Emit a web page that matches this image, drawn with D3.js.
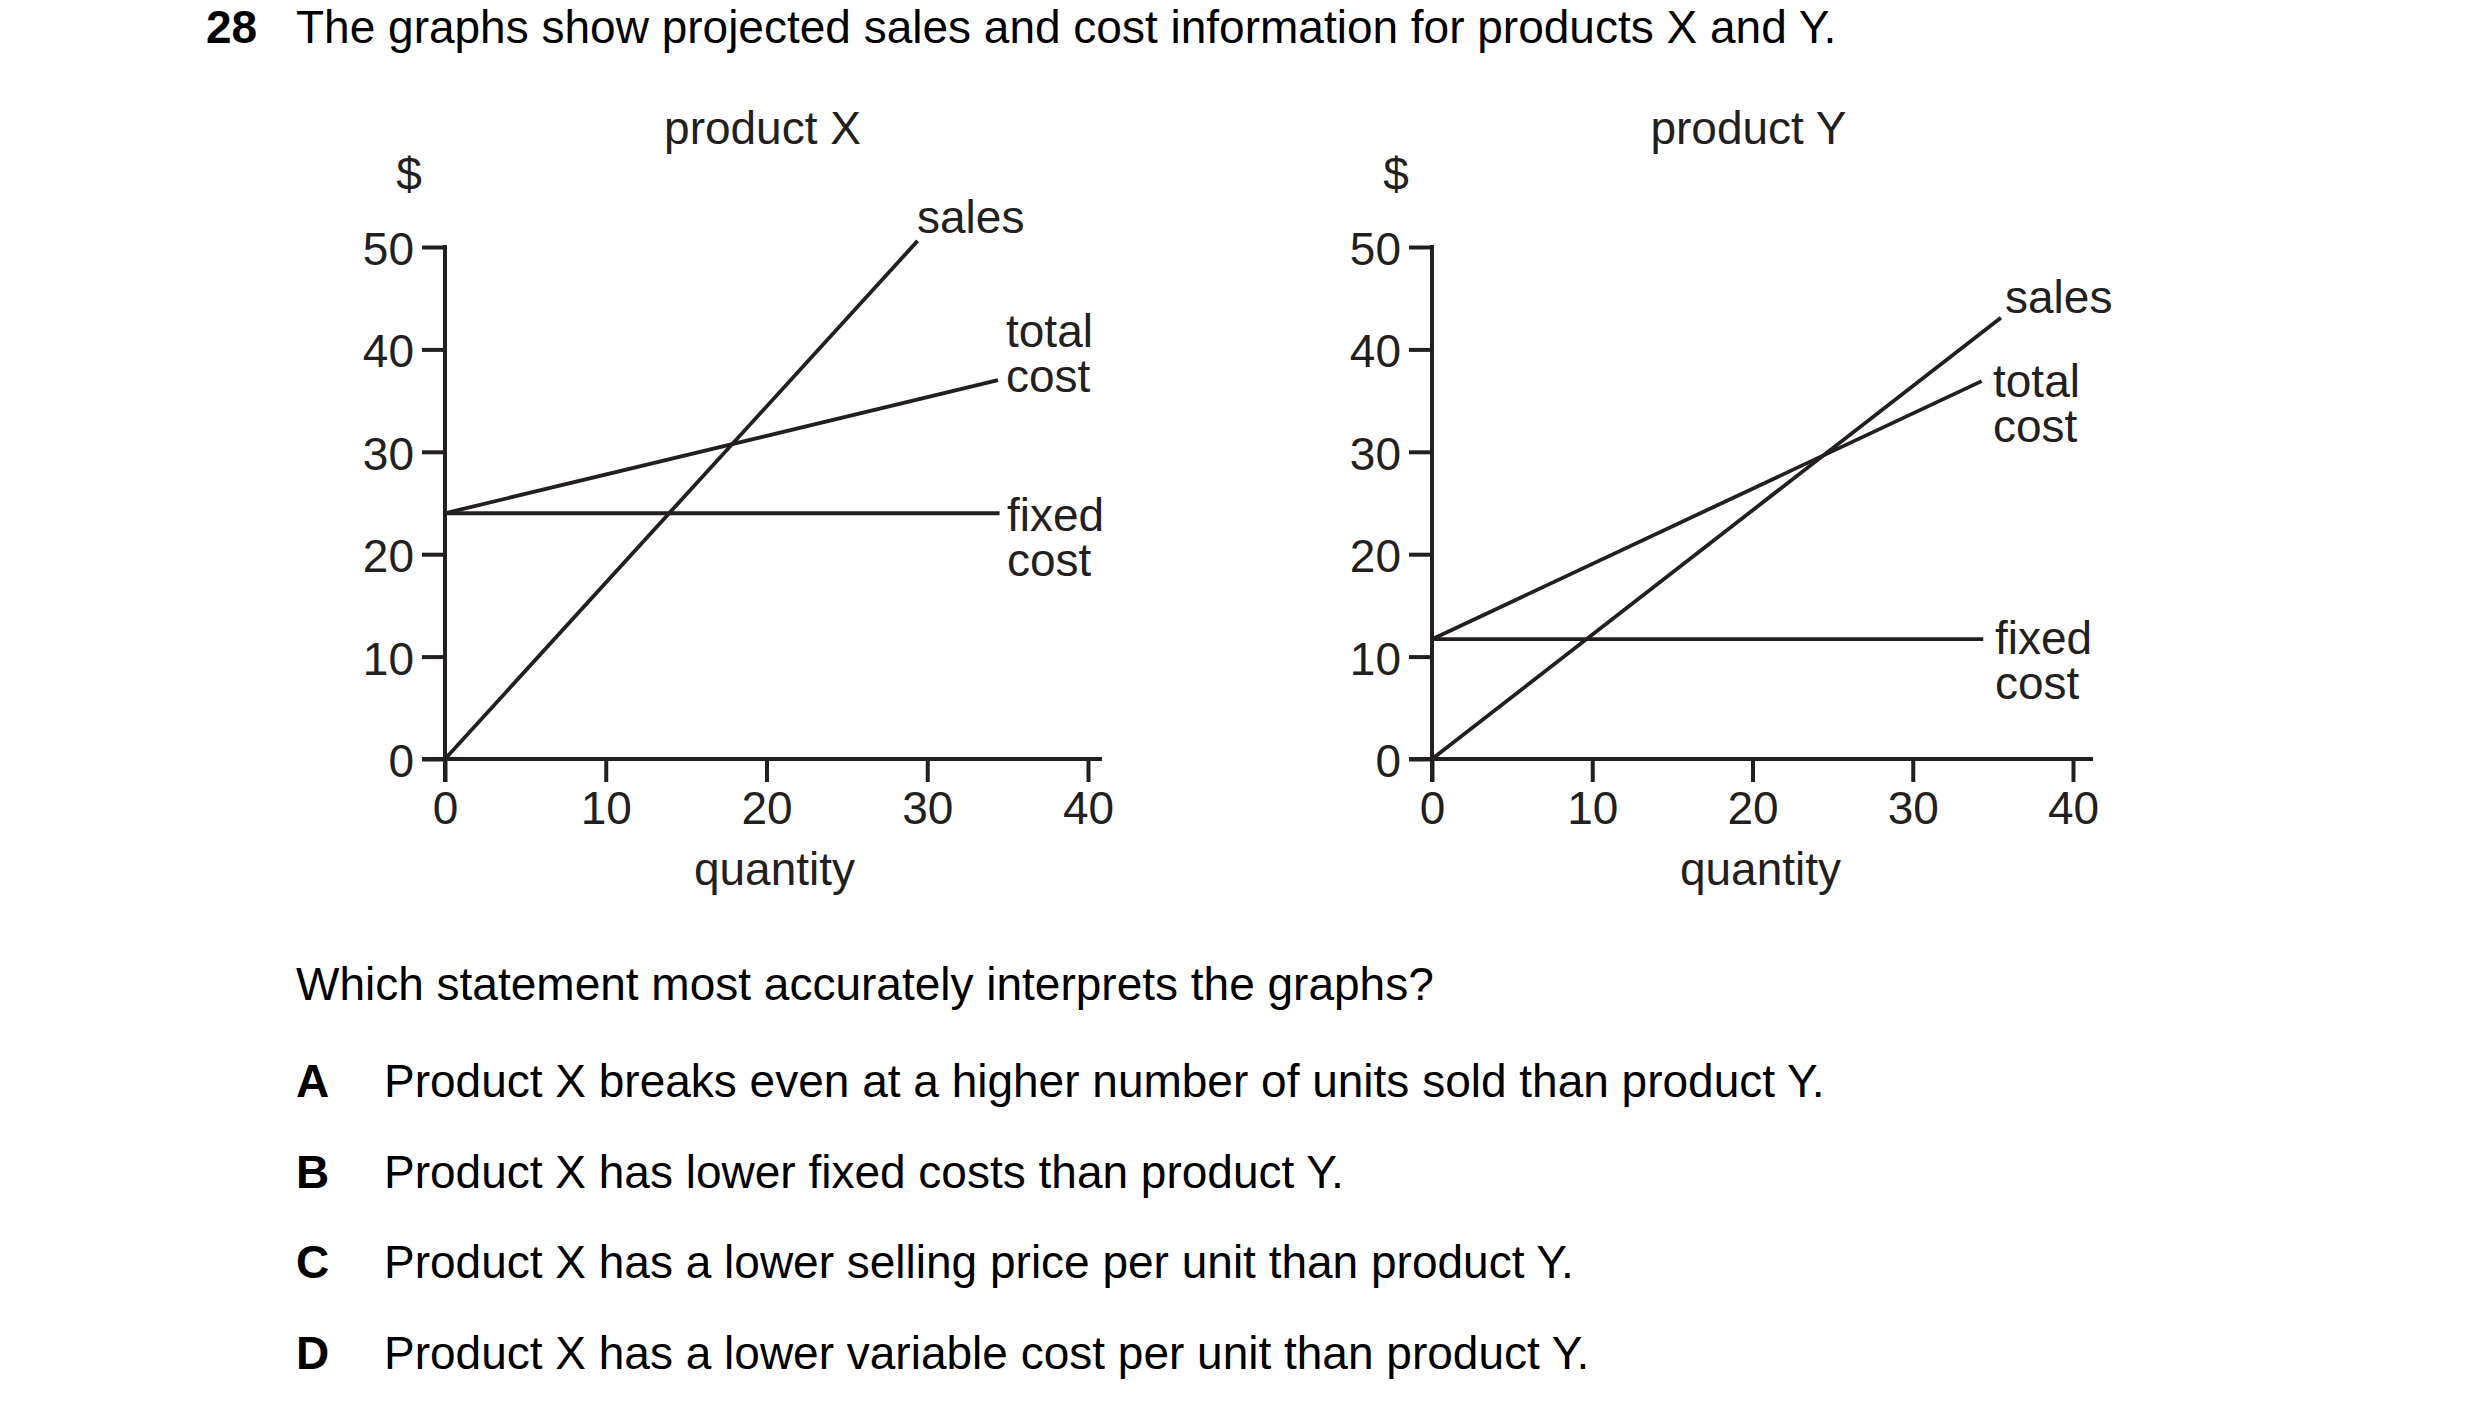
<!DOCTYPE html>
<html>
<head>
<meta charset="utf-8">
<script src="https://cdn.jsdelivr.net/npm/d3@7"></script>
<style>
  html, body { margin: 0; padding: 0; background: #ffffff; }
  svg { display: block; }
</style>
</head>
<body>
<script>
// ---------------- DATA ----------------
const questionNumber = "28";
const questionTitle = "The graphs show projected sales and cost information for products X and Y.";
const questionPrompt = "Which statement most accurately interprets the graphs?";
const optionLetters = ["A", "B", "C", "D"];
const optionTexts = [
  "Product X breaks even at a higher number of units sold than product Y.",
  "Product X has lower fixed costs than product Y.",
  "Product X has a lower selling price per unit than product Y.",
  "Product X has a lower variable cost per unit than product Y."
];

const xTicks = [0, 10, 20, 30, 40];
const yTicks = [0, 10, 20, 30, 40, 50];
const xDomain = [0, 40];
const yDomain = [0, 50];
const xAxisTitle = "quantity";
const yAxisTitle = "$";

// [quantity, $] end points of each straight line
const productXSales     = [[0, 0], [29.4, 50.6]];
const productXTotalCost = [[0, 24], [34.4, 37]];
const productXFixedCost = [[0, 24], [34.5, 24]];

const productYSales     = [[0, 0], [35.5, 43.1]];
const productYTotalCost = [[0, 11.7], [34.3, 36.9]];
const productYFixedCost = [[0, 11.7], [34.4, 11.7]];

const seriesLabels = { sales: ["sales"], total: ["total", "cost"], fixed: ["fixed", "cost"] };

// ---------------- LAYOUT / STYLE ----------------
const W = 2480, H = 1416;
const FONT = "'Liberation Sans', Arial, Helvetica, sans-serif";
const FS = 46;
const INK = "#231f20";
const TICK = 23;

const charts = [
  {
    title: "product X",
    left: 445, right: 1088, top: 247, bottom: 759, axisExtend: 14,
    series: { sales: productXSales, total: productXTotalCost, fixed: productXFixedCost },
    // label anchor positions (pixels) for each series label block: [x, first baseline]
    labelPos: { sales: [917, 233], total: [1006, 347], fixed: [1007, 531] }
  },
  {
    title: "product Y",
    left: 1432, right: 2073, top: 247, bottom: 759, axisExtend: 20,
    series: { sales: productYSales, total: productYTotalCost, fixed: productYFixedCost },
    labelPos: { sales: [2005, 313], total: [1993, 397], fixed: [1995, 654] }
  }
];

const svg = d3.select("body").append("svg")
  .attr("width", W).attr("height", H)
  .attr("viewBox", `0 0 ${W} ${H}`)
  .style("font-family", FONT);

// ---------------- HEADER ----------------
svg.append("text").attr("x", 206).attr("y", 43)
  .attr("font-size", FS).attr("font-weight", "bold").attr("fill", "#000")
  .text(questionNumber);
svg.append("text").attr("x", 296).attr("y", 43)
  .attr("font-size", FS).attr("fill", "#000")
  .text(questionTitle);

// ---------------- CHARTS ----------------
charts.forEach(c => {
  const x = d3.scaleLinear().domain(xDomain).range([c.left, c.right]);
  const y = d3.scaleLinear().domain(yDomain).range([c.bottom, c.top]);
  const g = svg.append("g");

  // Chart title
  g.append("text")
    .attr("x", (c.left + c.right) / 2 - 4).attr("y", 144)
    .attr("text-anchor", "middle").attr("font-size", FS).attr("fill", INK)
    .text(c.title);

  // $ label
  g.append("text")
    .attr("x", x(0) - 36).attr("y", 190)
    .attr("text-anchor", "middle").attr("font-size", FS).attr("fill", INK)
    .text(yAxisTitle);

  // Y axis
  const yAxis = d3.axisLeft(y).tickValues(yTicks).tickSize(TICK).tickPadding(8).tickFormat(d3.format("d"));
  const gy = g.append("g").attr("transform", `translate(${x(0)},0)`).call(yAxis);
  gy.select(".domain").remove();
  gy.selectAll(".tick line").attr("stroke", INK).attr("stroke-width", 4);
  gy.selectAll(".tick text").attr("font-size", FS).attr("font-family", FONT).attr("fill", INK).attr("dy", "0.38em");

  // X axis
  const xAxis = d3.axisBottom(x).tickValues(xTicks).tickSize(TICK).tickPadding(9).tickFormat(d3.format("d"));
  const gx = g.append("g").attr("transform", `translate(0,${y(0)})`).call(xAxis);
  gx.select(".domain").remove();
  gx.selectAll(".tick line").attr("stroke", INK).attr("stroke-width", 4);
  gx.selectAll(".tick text").attr("font-size", FS).attr("font-family", FONT).attr("fill", INK);

  // Axis lines
  g.append("line")
    .attr("x1", x(0) - TICK).attr("x2", x(xDomain[1]) + c.axisExtend)
    .attr("y1", y(0)).attr("y2", y(0))
    .attr("stroke", INK).attr("stroke-width", 4);
  g.append("line")
    .attr("x1", x(0)).attr("x2", x(0))
    .attr("y1", y(0) + TICK).attr("y2", y(yDomain[1]) - 2)
    .attr("stroke", INK).attr("stroke-width", 4);

  // quantity label
  g.append("text")
    .attr("x", (c.left + c.right) / 2 + 8).attr("y", 885)
    .attr("text-anchor", "middle").attr("font-size", FS).attr("fill", INK)
    .text(xAxisTitle);

  // Lines
  const line = d3.line().x(d => x(d[0])).y(d => y(d[1]));
  ["fixed", "total", "sales"].forEach(k => {
    g.append("path").datum(c.series[k])
      .attr("d", line)
      .attr("fill", "none").attr("stroke", INK).attr("stroke-width", 3.8)
      .attr("stroke-linecap", "butt");
  });

  // Series labels
  Object.keys(seriesLabels).forEach(k => {
    const [lx, ly] = c.labelPos[k];
    const t = g.append("text").attr("x", lx).attr("y", ly)
      .attr("font-size", FS).attr("fill", INK);
    seriesLabels[k].forEach((s, i) => {
      t.append("tspan").attr("x", lx).attr("dy", i === 0 ? 0 : 45).text(s);
    });
  });
});

// ---------------- QUESTION ----------------
svg.append("text").attr("x", 296).attr("y", 1000)
  .attr("font-size", FS).attr("fill", "#000")
  .text(questionPrompt);

optionLetters.forEach((L, i) => {
  const by = 1097 + i * 90.5;
  svg.append("text").attr("x", 296).attr("y", by)
    .attr("font-size", FS).attr("font-weight", "bold").attr("fill", "#000")
    .text(L);
  svg.append("text").attr("x", 384).attr("y", by)
    .attr("font-size", FS).attr("fill", "#000")
    .text(optionTexts[i]);
});
</script>
</body>
</html>
